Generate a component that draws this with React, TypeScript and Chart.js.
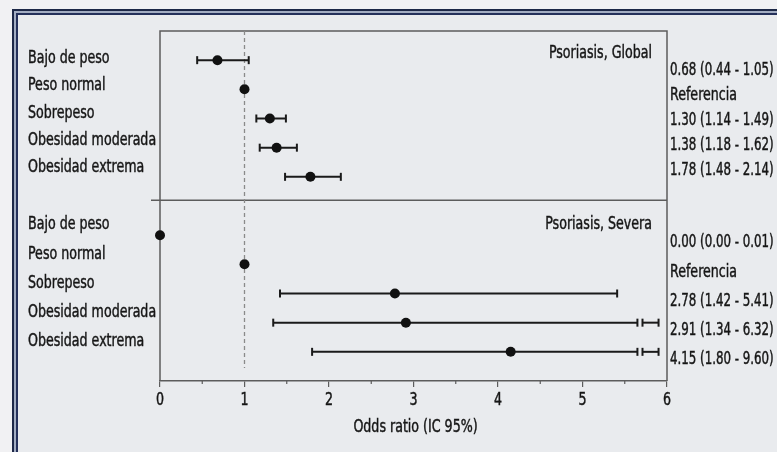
import React, { useEffect, useRef } from 'react';
import { Chart, registerables } from 'chart.js';

Chart.register(...registerables);

// ---- Data ----
const categories = ['Bajo de peso', 'Peso normal', 'Sobrepeso', 'Obesidad moderada', 'Obesidad extrema'];

const globalOR = [0.68, 1.0, 1.30, 1.38, 1.78];
const globalLow = [0.44, null, 1.14, 1.18, 1.48];
const globalHigh = [1.05, null, 1.49, 1.62, 2.14];
const globalText = ['0.68 (0.44 - 1.05)', 'Referencia', '1.30 (1.14 - 1.49)', '1.38 (1.18 - 1.62)', '1.78 (1.48 - 2.14)'];

const severaOR = [0.0, 1.0, 2.78, 2.91, 4.15];
const severaLow = [0.0, null, 1.42, 1.34, 1.80];
const severaHigh = [0.01, null, 5.41, 6.32, 9.60];
const severaText = ['0.00 (0.00 - 0.01)', 'Referencia', '2.78 (1.42 - 5.41)', '2.91 (1.34 - 6.32)', '4.15 (1.80 - 9.60)'];

const panelTitles = ['Psoriasis, Global', 'Psoriasis, Severa'];
const globalRows = [0, 1, 2, 3, 4];
const severaRows = [6, 7, 8, 9, 10];
const xTicks = [0, 1, 2, 3, 4, 5, 6];
const xMinorTicks = [0.5, 1.5, 2.5, 3.5, 4.5, 5.5];
const axisTitle = 'Odds ratio (IC 95%)';

// ---- Style ----
const FONT = '"Liberation Sans Narrow", "Arial Narrow", "DejaVu Sans Condensed", sans-serif';
const FONT_SIZE = 18;
const SQUEEZE = 0.78;
const SQUEEZE_NUM = 0.73;
const TEXT = '#161616';
const LINE = '#1a1a1a';
const BOX = '#5c5c5c';
const X_MAX = 6;

function text(ctx: CanvasRenderingContext2D, s: string, x: number, y: number, align: CanvasTextAlign, k = SQUEEZE) {
  ctx.save();
  ctx.translate(x, y);
  ctx.scale(k, 1);
  ctx.textAlign = align;
  ctx.textBaseline = 'alphabetic';
  ctx.lineWidth = 0.45;
  ctx.strokeStyle = TEXT;
  ctx.fillText(s, 0, 0);
  ctx.strokeText(s, 0, 0);
  ctx.restore();
}

const forestPlugin = {
  id: 'forest',
  beforeDraw(chart: any) {
    const { ctx, width, height } = chart;
    ctx.save();
    ctx.fillStyle = '#f1f1f3';
    ctx.fillRect(0, 0, width, height);
    ctx.fillStyle = '#e9ebee';
    ctx.fillRect(12, 9, width - 12, height - 9);
    ctx.fillStyle = '#1d2847';
    ctx.fillRect(12, 9, width, 2);
    ctx.fillRect(12, 9, 2, height);
    ctx.fillStyle = '#a3adc2';
    ctx.fillRect(14, 11, width, 2);
    ctx.fillRect(14, 11, 2, height);
    ctx.fillStyle = '#24305a';
    ctx.fillRect(16, 13, width, 2);
    ctx.fillRect(16, 13, 2, height);
    ctx.restore();
  },
  beforeDatasetsDraw(chart: any) {
    const { ctx, chartArea } = chart;
    const xs = chart.scales.x;
    const ys = chart.scales.y;
    ctx.save();
    ctx.strokeStyle = BOX;
    ctx.lineWidth = 1.5;
    ctx.beginPath();
    ctx.moveTo(chartArea.left, chartArea.bottom);
    ctx.lineTo(chartArea.left, chartArea.top);
    ctx.lineTo(chartArea.right, chartArea.top);
    ctx.lineTo(chartArea.right, chartArea.bottom);
    ctx.stroke();
    const yd = ys.getPixelForValue(4.8);
    ctx.beginPath();
    ctx.moveTo(chartArea.left - 9, yd);
    ctx.lineTo(chartArea.right, yd);
    ctx.stroke();
    ctx.strokeStyle = '#8a8a8a';
    ctx.lineWidth = 1.3;
    ctx.setLineDash([4, 3]);
    const xr = xs.getPixelForValue(1);
    ctx.beginPath();
    ctx.moveTo(xr, chartArea.top);
    ctx.lineTo(xr, chartArea.bottom - 13);
    ctx.stroke();
    ctx.setLineDash([]);
    ctx.strokeStyle = BOX;
    ctx.lineWidth = 1.2;
    xMinorTicks.forEach((v) => {
      const x = xs.getPixelForValue(v);
      ctx.beginPath();
      ctx.moveTo(x, chartArea.bottom);
      ctx.lineTo(x, chartArea.bottom + 3);
      ctx.stroke();
    });

    ctx.strokeStyle = LINE;
    ctx.lineWidth = 2;
    const cap = (x: number, y: number) => {
      ctx.beginPath();
      ctx.moveTo(x, y - 4);
      ctx.lineTo(x, y + 4);
      ctx.stroke();
    };
    const seg = (x1: number, x2: number, y: number) => {
      ctx.beginPath();
      ctx.moveTo(x1, y);
      ctx.lineTo(x2, y);
      ctx.stroke();
    };
    const drawCI = (lo: number | null, hi: number | null, row: number) => {
      if (lo === null || hi === null) return;
      const y = ys.getPixelForValue(row);
      const x1 = xs.getPixelForValue(lo);
      if (hi > X_MAX) {
        const b1 = xs.getPixelForValue(5.65);
        const b2 = xs.getPixelForValue(5.71);
        const e = xs.getPixelForValue(5.9);
        seg(x1, b1, y);
        cap(x1, y);
        cap(b1, y);
        cap(b2, y);
        seg(b2, e, y);
        cap(e, y);
      } else {
        const x2 = xs.getPixelForValue(hi);
        seg(x1, x2, y);
        cap(x1, y);
        cap(x2, y);
      }
    };
    globalRows.forEach((r, i) => drawCI(globalLow[i], globalHigh[i], r));
    severaRows.forEach((r, i) => drawCI(severaLow[i], severaHigh[i], r));
    ctx.restore();
  },
  afterDraw(chart: any) {
    const { ctx, chartArea } = chart;
    const xs = chart.scales.x;
    const ys = chart.scales.y;
    const kOf = (s: string) => (/^\d/.test(s) ? SQUEEZE_NUM : SQUEEZE);
    ctx.save();
    ctx.font = `${FONT_SIZE}px ${FONT}`;
    ctx.fillStyle = TEXT;
    // left labels (label column is slightly tighter than the rows in the top panel)
    globalRows.forEach((r, i) => text(ctx, categories[i], 28, ys.getPixelForValue(0.1 + 0.935 * i), 'left'));
    severaRows.forEach((r, i) => text(ctx, categories[i], 28, ys.getPixelForValue(r - 0.2), 'left'));
    // right labels
    const xText = chartArea.right + 3;
    globalRows.forEach((r, i) =>
      text(ctx, globalText[i], xText, ys.getPixelForValue(0.5 + 0.86 * i), 'left', kOf(globalText[i]))
    );
    severaRows.forEach((r, i) =>
      text(ctx, severaText[i], xText, ys.getPixelForValue(r + 0.42), 'left', kOf(severaText[i]))
    );
    // panel titles
    text(ctx, panelTitles[0], chartArea.right - 15, ys.getPixelForValue(-0.07), 'right');
    text(ctx, panelTitles[1], chartArea.right - 15, ys.getPixelForValue(5.79), 'right');
    // x axis
    xTicks.forEach((v) => text(ctx, String(v), xs.getPixelForValue(v), chartArea.bottom + 24, 'center'));
    text(ctx, axisTitle, (chartArea.left + chartArea.right) / 2 + 2, chartArea.bottom + 51, 'center');
    ctx.restore();
  },
};

export default function App() {
  const ref = useRef<HTMLCanvasElement | null>(null);

  useEffect(() => {
    if (!ref.current) return;
    const mk = (vals: number[], rows: number[]) => vals.map((v, i) => ({ x: v, y: rows[i] }));
    const chart = new Chart(ref.current, {
      type: 'scatter',
      data: {
        datasets: [
          {
            label: panelTitles[0],
            data: mk(globalOR, globalRows),
            pointRadius: 5,
            pointHoverRadius: 5,
            backgroundColor: '#111',
            borderWidth: 0,
            clip: false as any,
          },
          {
            label: panelTitles[1],
            data: mk(severaOR, severaRows),
            pointRadius: 5,
            pointHoverRadius: 5,
            backgroundColor: '#111',
            borderWidth: 0,
            clip: false as any,
          },
        ],
      },
      options: {
        animation: false,
        responsive: false,
        devicePixelRatio: 1,
        layout: { padding: { left: 160, right: 110, top: 31, bottom: 0 } },
        plugins: { legend: { display: false }, tooltip: { enabled: false } },
        events: [],
        scales: {
          x: {
            type: 'linear',
            min: 0,
            max: X_MAX,
            afterBuildTicks: (scale: any) => {
              scale.ticks = xTicks.map((v) => ({ value: v }));
            },
            afterFit: (scale: any) => {
              scale.height = 71;
            },
            ticks: { display: false },
            grid: {
              display: true,
              drawOnChartArea: false,
              drawTicks: true,
              tickLength: 6,
              color: BOX,
              lineWidth: 1.2,
            },
            border: { display: true, color: BOX, width: 1.5 },
            title: { display: false },
          },
          y: {
            type: 'linear',
            min: -1,
            max: 11,
            reverse: true,
            display: false,
          },
        },
      },
      plugins: [forestPlugin],
    });
    return () => chart.destroy();
  }, []);

  return (
    <div style={{ position: 'absolute', left: 0, top: 0, width: 777, height: 452 }}>
      <canvas ref={ref} width={777} height={452} style={{ display: 'block' }} />
    </div>
  );
}
